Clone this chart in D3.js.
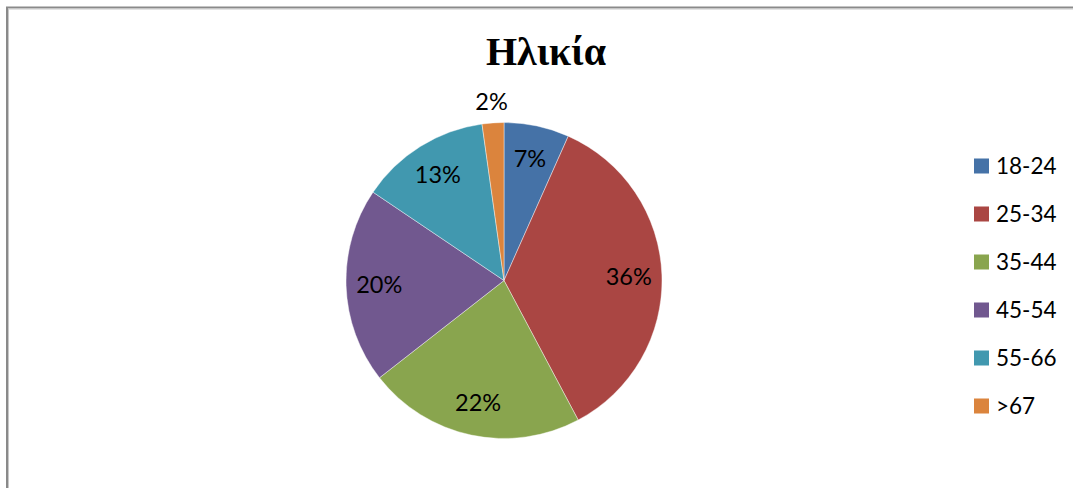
<!DOCTYPE html>
<html>
<head>
<meta charset="utf-8">
<script src="https://cdn.jsdelivr.net/npm/d3@7"></script>
<style>
  html, body { margin: 0; padding: 0; background: #fff; }
  svg { display: block; }
</style>
</head>
<body>
<div id="chart"></div>
<script>
// age groups and respondent counts (n = 45)
var categories = ['18-24', '25-34', '35-44', '45-54', '55-66', '>67'];
var counts = [3, 16, 10, 9, 6, 1];
var colors = ['#4572A7', '#AA4643', '#89A54E', '#71588F', '#4198AF', '#DB843D'];
var title = 'Ηλικία';

var width = 1073, height = 488;
var cx = 504, cy = 280.5, radius = 158;

var svg = d3.select('#chart')
    .append('svg')
    .attr('width', width)
    .attr('height', height);

// chart frame (only top and left edges are visible in the crop)
svg.append('path')
    .attr('d', 'M7,' + height + 'V7.5H' + width)
    .attr('fill', 'none')
    .attr('stroke', '#8a8a8a')
    .attr('stroke-width', 2);
svg.append('path')
    .attr('d', 'M8.5,' + height + 'V9H' + width)
    .attr('fill', 'none')
    .attr('stroke', '#c8c8c8')
    .attr('stroke-width', 1);

svg.append('text')
    .attr('x', 546)
    .attr('y', 65)
    .attr('text-anchor', 'middle')
    .style('font-family', '"Liberation Serif", "Times New Roman", serif')
    .style('font-weight', 'bold')
    .style('font-size', '40px')
    .text(title);

var total = d3.sum(counts);
var data = categories.map(function(c, i) {
    return {label: c, value: counts[i], color: colors[i]};
});

var pie = d3.pie()
    .sort(null)
    .value(function(d) { return d.value; });

var arc = d3.arc()
    .innerRadius(0)
    .outerRadius(radius);

var g = svg.append('g')
    .attr('transform', 'translate(' + cx + ',' + cy + ')');

var arcs = pie(data);

g.selectAll('path.slice')
    .data(arcs)
    .enter().append('path')
    .attr('class', 'slice')
    .attr('d', arc)
    .attr('fill', function(d) { return d.data.color; })
    .attr('stroke', '#ffffff')
    .attr('stroke-opacity', 0.6)
    .attr('stroke-width', 0.7);

g.selectAll('text.pct')
    .data(arcs)
    .enter().append('text')
    .attr('class', 'pct')
    .attr('transform', function(d) {
        var a = (d.startAngle + d.endAngle) / 2;
        var share = d.value / total;
        var r = share < 0.04 ? radius + 21 : radius * 0.79;
        return 'translate(' + (Math.sin(a) * r) + ',' + (-Math.cos(a) * r) + ')';
    })
    .attr('text-anchor', 'middle')
    .attr('dy', '0.36em')
    .style('font-family', 'Lato, "Open Sans", sans-serif')
    .style('font-size', '23.5px')
    .style('fill', '#000')
    .text(function(d) { return Math.round(d.value / total * 100) + '%'; });

var legend = svg.append('g')
    .attr('transform', 'translate(974,166)');

var item = legend.selectAll('g.item')
    .data(data)
    .enter().append('g')
    .attr('class', 'item')
    .attr('transform', function(d, i) { return 'translate(0,' + (i * 48) + ')'; });

item.append('rect')
    .attr('x', 0)
    .attr('y', -7.5)
    .attr('width', 15)
    .attr('height', 15)
    .attr('fill', function(d) { return d.color; });

item.append('text')
    .attr('x', 22)
    .attr('dy', '0.36em')
    .style('font-family', 'Lato, "Open Sans", sans-serif')
    .style('font-size', '22.5px')
    .style('fill', '#000')
    .text(function(d) { return d.label; });
</script>
</body>
</html>
